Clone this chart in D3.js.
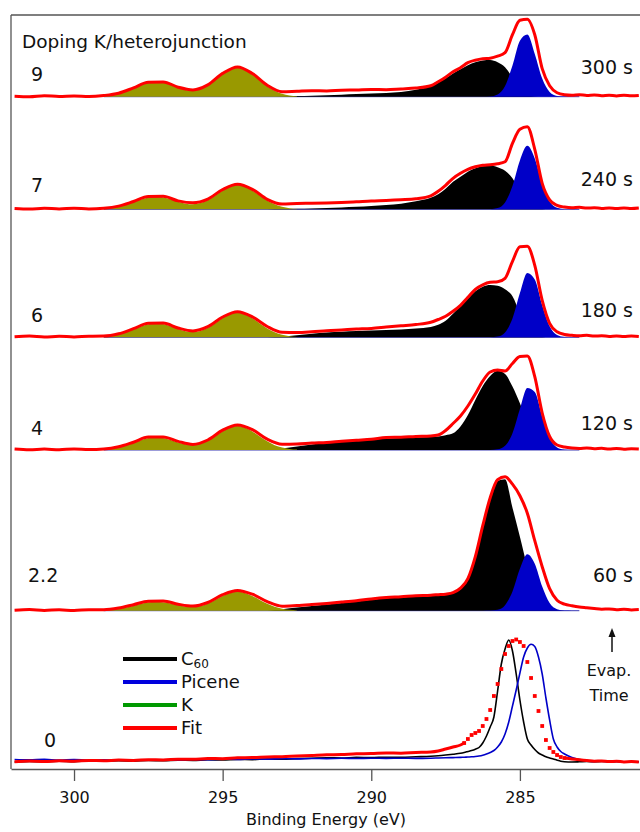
<!DOCTYPE html>
<html>
<head>
<meta charset="utf-8">
<script src="https://cdn.jsdelivr.net/npm/d3@7"></script>
<style>
  html, body { margin: 0; padding: 0; background: #fff; }
  svg { display: block; font-family: "DejaVu Sans", Verdana, sans-serif; }
</style>
</head>
<body>
<svg id="chart" width="640" height="832"></svg>
<script>
// ---------- sampling grids (binding energy, eV) ----------
const fitEnergy = [...d3.range(302, 287.9, -0.5), ...d3.range(287.75, 280.9, -0.25)];
const refEnergy = [...d3.range(302, 287.9, -0.5), ...d3.range(287.75, 286.9, -0.25),
                   ...d3.range(286.875, 283.4, -0.125), ...d3.range(283.25, 280.9, -0.25)];
const kEnergy   = d3.range(299, 292.4, -0.25);
const picEnergy = d3.range(286.25, 282.9, -0.25);
const c60Energy = [293.5, 293, 292.5, 292, 291.5, 291, 290.5, 290, 289.5, 289, 288.5, 288,
                   287.75, 287.5, 287.25, 287, 286.75, 286.5, 286.25, 286, 285.75, 285.5,
                   285.25, 285, 284.75, 284.5, 284.25, 284, 283.75, 283.5];

// ---------- labels ----------
const dosing   = ["9", "7", "6", "4", "2.2", "0"];
const evapTime = ["300 s", "240 s", "180 s", "120 s", "60 s"];
const xTicks   = [300, 295, 290, 285];
const legendNames = ["C60", "Picene", "K", "Fit"];

// ---------- measured envelopes (Fit) on fitEnergy ----------
const fit300 = [0.5,0,1,0.3,0.8,0.2,1.2,3.5,8.8,14.5, 14.8,9.5,6.8,11.8,23.3,29.8,23.2,11.5,5,5.5,
  6,5.8,6.5,6.8,7.3,7,7.8,8.7,11, 15,19.5,25,29,34,36.5,38,38.5,40.5,44,
  62,76.5,77.5,62,28,11,4,2,1.5,2, 1.2,1.8,1,1.5,0.8,1.4,0.9,1.3];
const fit240 = [0.8,0.2,1,0.4,1.1,0.3,1,3.2,7.8,12.8, 13,8.4,6.5,10.2,19.8,25,20,10,5.2,5.8,
  6,6.3,6.8,7.5,8.3,8.8,9.5,10.5,13.5, 18,24,31,36,40,42.5,44,44.5,45.5,47.5,
  66,80,82.5,60,26,9.5,4,2.2,1.5,2, 1.2,1.6,0.9,1.4,0.8,1.3,0.7,1.2];
const fit180 = [0.6,1.2,0.3,1,0.4,1.1,1.2,3.5,8.6,14, 14.2,9.3,6.4,10.6,20.3,25.6,20.5,10.8,5,4.8,
  5.5,6.6,7.4,8.2,8.9,10.2,11.5,12.8,15, 17.8,21,26,32,40,48,52.5,55,55.5,59,
  76,90.5,91,72,37,14,5.5,2.8,2,1.5, 2,1.2,1.6,0.9,1.3,0.7,1.2,0.8];
const fit120 = [1,0.3,0.9,0.2,1.1,0.5,1,3.2,7.8,12.9, 13,8.6,5.6,10,19.8,25,20.3,10.8,5.8,6,
  7,7.6,8.8,9.8,10.8,12.4,12.8,13.5,14, 15,19.5,26.5,34,44,56,69,78,80,79,
  86.5,93.5,94,73.3,37,13.5,5,3,2,1.6, 2.1,1.2,1.7,1,1.5,0.8,1.3,1];
const fit60 = [0.4,1.1,0.3,0.9,0.2,1,0.9,2.6,6,9.5, 9.7,6.5,4.6,8.2,16,20.3,16.5,9,4.5,5.2,
  6.2,7.3,8.6,10,11.8,13.2,14,15,15.5, 16,16.5,18,22.5,32,54,85,113,131,134,
  126.5,115,97.5,70,44,22,10.5,6.5,5,3.8, 3,2.2,1.5,1.8,1,1.4,0.8,1.1];

// ---------- K 2p components on kEnergy ----------
const k300 = [0.7,1.5,3.0,5.4,8.4,11.6,14.1,15,14.1,11.8,8.9,6.7,6.0,7.4,11.1,16.6,22.6,27.2,29,27.2,22.5,16.3,10.4,5.9,2.9,1.3,0.5];
const k240 = [0.56,1.28,2.58,4.57,7.15,9.84,11.9,12.7,11.95,9.98,7.56,5.64,5.03,6.21,9.31,13.9,18.9,22.8,24.3,22.8,18.8,13.7,8.75,4.93,2.45,1.07,0.41];
const k180 = [0.62,1.41,2.84,5.04,7.88,10.85,13.13,14,13.2,11.0,8.3,6.13,5.33,6.42,9.51,14.1,19.2,23.2,24.7,23.2,19.1,13.9,8.9,5.0,2.5,1.1,0.4];
const k120 = [0.56,1.28,2.58,4.57,7.15,9.84,11.9,12.7,11.95,9.98,7.56,5.63,5.0,6.15,9.2,13.7,18.7,22.5,24,22.5,18.6,13.5,8.64,4.87,2.42,1.06,0.41];
const k60  = [0.4,0.91,1.83,3.24,5.07,6.98,8.44,9,8.47,7.09,5.39,4.08,3.75,4.77,7.24,10.85,14.75,17.8,19,17.8,14.7,10.7,6.84,3.86,1.92,0.84,0.32];

// ---------- C60 components on c60Energy ----------
const c60_300 = [0,0.3,0.6,1,1.5,2,2.6,3.2,3.8,4.6, 7,10.5,14,18.5,23.3,27.5,31.5,34.5,36.2,36.7, 34.5,29.5,19,6.5,1.5,0.3,0,0,0,0];
const c60_240 = [0,0.2,0.5,0.8,1.2,1.8,2.5,3.2,4.3,5.6, 8,11.5,15,20.5,27.5,32.5,37.5,41,43,43.7, 42,38.5,31,18,6.5,1.5,0.3,0,0,0];
const c60_180 = [0,0.8,2,3.6,4.8,5.5,6.2,6.7,7.3,7.8, 8.8,10.2,12.5,16.5,23.5,31,38.5,46,50.5,52.2, 51.5,48,41,24,7,1.5,0.3,0,0,0];
const c60_120 = [0,1.6,3.5,5.5,7.2,8.5,9.5,10.5,11.5,12, 12.5,13,13.6,14.8,16.7,23.5,35,50,64,74, 79.2,76,63.5,46.7,27,10,2.5,0.5,0,0];
const c60_60  = [0,1.5,3.2,4.8,6.3,7.8,9.2,11,12.5,13.3, 14,14.6,15.1,15.7,17.5,21.5,31,52,83,110.7, 130,131.5,103,74,44,21,8,2.7,0.8,0];

// ---------- Picene components on picEnergy ----------
const pic300 = [0.03,0.29,2.25,10.7,31.1,56.0,62.3,42.8,18.1,4.74,0.77,0.08,0,0];
const pic240 = [0.01,0.14,1.24,6.84,23.3,48.9,63.5,50.8,25.1,7.68,1.45,0.17,0.01,0];
const pic180 = [0.01,0.08,0.79,4.9,18.7,44.2,64.4,57.9,32.1,11.0,2.33,0.3,0.03,0];
const pic120 = [0,0.06,0.65,4.2,16.7,41.0,62.0,58.0,33.5,11.9,2.62,0.36,0.03,0];
const pic60  = [0,0.1,0.95,5.42,19.2,41.9,56.5,47.0,24.2,7.67,1.5,0.18,0.01,0];

// ---------- undoped reference spectra on refEnergy ----------
const ref0C60 = [0,0.6,0.2,0.9,0.4,1.0,0.7,1.2,0.9,1.5, 1.2,1.8,1.6,2.2,2.0,2.6,2.4,3.0,2.8,3.4,
  3.8,4.2,4.0,4.6,4.4,4.8,4.6,5.2,5.8, 6.3,7,7.8,8.7,
  9.5,10.5,11.5,12.8,14.5,19,26,35, 45,71,98,113,122,111,88,62,
  40,23,17,12.5,9,7,5.2,4, 3,1.8,0.8,0.3,
  0,0.2,0.5,0.2,0.6,0.3,0.5,0.1,0.4,0.2];
const ref0Picene = [2.5,2.2,2.6,2.0,2.4,1.8,2.1,1.7,2.0,1.8, 2.2,2.0,2.5,2.3,2.8,2.6,3.0,2.9,3.3,3.1,
  3.5,3.4,3.7,3.5,3.8,3.6,3.8,3.6,3.8, 4,4.2,4.4,4.6,
  4.8,5,5.2,5.5,6,6.8,8,9.5, 11.5,15,20,28,40,56,72,89,
  105,114,117.7,115.5,105,88,64,42, 23,15,10.5,8,
  4.5,2.5,1.5,0.6,0.8,0.3,0.5,0,0.3,0];
const ref0Fit = [0.3,0.9,0.5,1.2,0.8,1.5,1.3,1.9,1.6,2.3, 2.1,2.8,2.7,3.5,3.3,4.2,4.4,5.0,5.3,6.0,
  6.6,7.2,7.5,8.2,8.4,9.0,8.8,9.5,10, 11,13,15,17,
  19,23,27,29,31,36,43,52, 66,78,93,108,116,121,122.5,120,
  116,100,84,66,51,36,22,14, 10,7,5,4,
  3,2.2,1.5,0.8,1,0.4,0.7,0.1,0.4,0];

const fittedSpectra = [
  { fit: fit300, k: k300, c60: c60_300, pic: pic300 },
  { fit: fit240, k: k240, c60: c60_240, pic: pic240 },
  { fit: fit180, k: k180, c60: c60_180, pic: pic180 },
  { fit: fit120, k: k120, c60: c60_120, pic: pic120 },
  { fit: fit60,  k: k60,  c60: c60_60,  pic: pic60  }
];

// ---------- layout & style ----------
const plot = { left: 11, right: 640, top: 15, bottom: 769 };
const panelBase   = [96.7, 209.3, 337.3, 450, 610.7, 762];
const dosingX     = [31, 31, 31, 31, 28, 44];
const dosingY     = [74, 185, 315, 428, 575, 740];
const timeY       = [67, 179, 310, 423, 575];
const legendY     = [659, 682, 705, 728];
const colors = {
  c60: "#000000", pic: "#0000c8", kFill: "#999900", kLine: "#009900",
  fit: "#ff0000", base: "#3a3ab4", frame: "#555555"
};
const legendColors = [colors.c60, "#0000dd", colors.kLine, colors.fit];

const svg = d3.select("#chart");
const x = d3.scaleLinear().domain([302.12, 280.96]).range([plot.left, plot.right]);
const yFor = base => d3.scaleLinear().domain([0, 100]).range([base, base - 100]);

svg.append("defs").append("clipPath").attr("id", "plotClip")
  .append("rect")
  .attr("x", plot.left).attr("y", plot.top)
  .attr("width", plot.right - plot.left).attr("height", plot.bottom - plot.top);

const gData = svg.append("g").attr("clip-path", "url(#plotClip)");

const areaOn = (E, y) => d3.area()
  .x((d, j) => x(E[j])).y0(y(0)).y1(d => y(d))
  .curve(d3.curveMonotoneX);
const lineOn = (E, y) => d3.line()
  .x((d, j) => x(E[j])).y(d => y(d))
  .curve(d3.curveMonotoneX);

// ---------- fitted, K-doped spectra ----------
fittedSpectra.forEach((s, i) => {
  const y = yFor(panelBase[i]);
  const g = gData.append("g");
  g.append("line")
    .attr("x1", x(299)).attr("x2", x(283))
    .attr("y1", y(0)).attr("y2", y(0))
    .attr("stroke", colors.base).attr("stroke-width", 1);
  g.append("path").datum(s.c60).attr("d", areaOn(c60Energy, y)).attr("fill", colors.c60);
  g.append("path").datum(s.k).attr("d", areaOn(kEnergy, y)).attr("fill", colors.kFill);
  g.append("path").datum(s.pic).attr("d", areaOn(picEnergy, y)).attr("fill", colors.pic);
  g.append("path").datum(s.fit).attr("d", lineOn(fitEnergy, y))
    .attr("fill", "none").attr("stroke", colors.fit)
    .attr("stroke-width", 3).attr("stroke-linejoin", "round");
});

// ---------- undoped heterojunction with reference spectra ----------
{
  const y = yFor(panelBase[5]);
  const g = gData.append("g");
  g.append("path").datum(ref0C60).attr("d", lineOn(refEnergy, y))
    .attr("fill", "none").attr("stroke", colors.c60).attr("stroke-width", 1.6);
  g.append("path").datum(ref0Picene).attr("d", lineOn(refEnergy, y))
    .attr("fill", "none").attr("stroke", colors.pic).attr("stroke-width", 1.6);

  const pts = ref0Fit.map((v, j) => ({ e: refEnergy[j], v }));
  const dense = p => p.e <= 286.875 && p.e >= 283.5;
  const redLine = d3.line().x(p => x(p.e)).y(p => y(p.v)).curve(d3.curveMonotoneX);
  g.append("path").datum(pts.filter(p => p.e >= 286.875)).attr("d", redLine)
    .attr("fill", "none").attr("stroke", colors.fit).attr("stroke-width", 3);
  g.append("path").datum(pts.filter(p => p.e <= 283.5)).attr("d", redLine)
    .attr("fill", "none").attr("stroke", colors.fit).attr("stroke-width", 3);
  g.selectAll("rect.pt").data(pts.filter(dense)).join("rect")
    .attr("class", "pt")
    .attr("x", p => x(p.e) - 1.9).attr("y", p => y(p.v) - 1.9)
    .attr("width", 3.8).attr("height", 3.8)
    .attr("fill", colors.fit);
}

// ---------- frame and axis ----------
svg.append("line")
  .attr("x1", plot.left).attr("x2", plot.left)
  .attr("y1", plot.top).attr("y2", plot.bottom)
  .attr("stroke", colors.frame).attr("stroke-width", 1.3);
svg.append("line")
  .attr("x1", plot.left).attr("x2", plot.right)
  .attr("y1", plot.top).attr("y2", plot.top)
  .attr("stroke", colors.frame).attr("stroke-width", 1.3);

const axis = d3.axisBottom(x).tickValues(xTicks).tickSize(12).tickSizeOuter(0)
  .tickPadding(11).tickFormat(d3.format("d"));
const gAxis = svg.append("g").attr("transform", `translate(0,${plot.bottom})`).call(axis);
gAxis.select(".domain").attr("stroke", colors.frame).attr("stroke-width", 1.3);
gAxis.selectAll(".tick line").attr("stroke", colors.frame).attr("stroke-width", 1.3);
gAxis.selectAll(".tick text")
  .attr("font-family", "DejaVu Sans, sans-serif").attr("font-size", 16).attr("fill", "#111");

svg.append("text")
  .attr("x", 326).attr("y", 825)
  .attr("text-anchor", "middle").attr("font-size", 16).attr("fill", "#111")
  .text("Binding Energy (eV)");

// ---------- annotations ----------
svg.append("text")
  .attr("x", 22).attr("y", 42).attr("dy", "0.35em")
  .attr("font-size", 18.5).attr("fill", "#111")
  .text("Doping K/heterojunction");

svg.selectAll("text.dose").data(dosing).join("text")
  .attr("class", "dose")
  .attr("x", (d, i) => dosingX[i]).attr("y", (d, i) => dosingY[i]).attr("dy", "0.35em")
  .attr("font-size", 19).attr("fill", "#111")
  .text(d => d);

svg.selectAll("text.time").data(evapTime).join("text")
  .attr("class", "time")
  .attr("x", 633).attr("y", (d, i) => timeY[i]).attr("dy", "0.35em")
  .attr("text-anchor", "end").attr("font-size", 19).attr("fill", "#111")
  .text(d => d);

// evaporation-time arrow
svg.append("line")
  .attr("x1", 612).attr("x2", 612).attr("y1", 652).attr("y2", 635)
  .attr("stroke", "#111").attr("stroke-width", 1.5);
svg.append("path")
  .attr("d", "M612,628 L608.5,637 L615.5,637 Z")
  .attr("fill", "#111");
svg.append("text")
  .attr("x", 609).attr("y", 670).attr("dy", "0.35em")
  .attr("text-anchor", "middle").attr("font-size", 16).attr("fill", "#111")
  .text("Evap.");
svg.append("text")
  .attr("x", 609).attr("y", 695).attr("dy", "0.35em")
  .attr("text-anchor", "middle").attr("font-size", 16).attr("fill", "#111")
  .text("Time");

// ---------- legend ----------
const gLeg = svg.append("g");
legendNames.forEach((name, i) => {
  gLeg.append("line")
    .attr("x1", 123).attr("x2", 177)
    .attr("y1", legendY[i]).attr("y2", legendY[i])
    .attr("stroke", legendColors[i]).attr("stroke-width", 4);
  const t = gLeg.append("text")
    .attr("x", 181).attr("y", legendY[i]).attr("dy", "0.35em")
    .attr("font-size", 18).attr("fill", "#111");
  const m = name.match(/^([A-Za-z]+)(\d+)$/);
  if (m) {
    t.append("tspan").text(m[1]);
    t.append("tspan").attr("font-size", 12).attr("dy", 3).text(m[2]);
  } else {
    t.text(name);
  }
});
</script>
</body>
</html>
